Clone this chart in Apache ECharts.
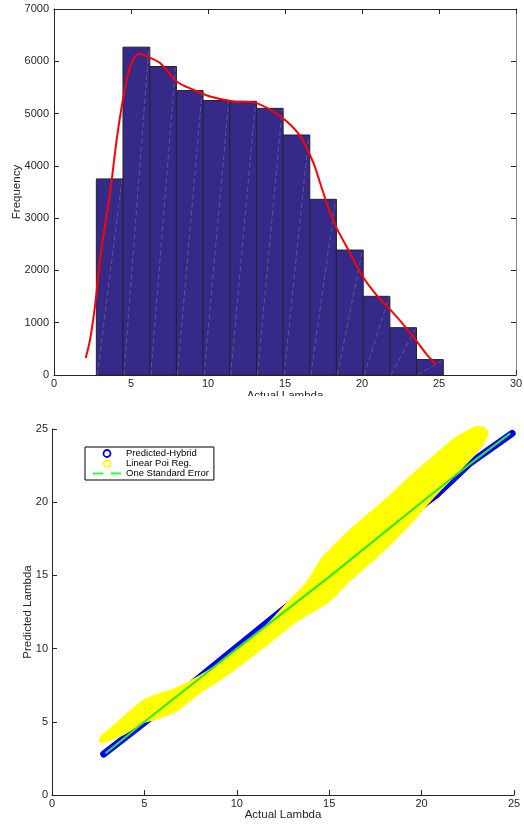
<!DOCTYPE html>
<html>
<head>
<meta charset="utf-8">
<script src="https://cdn.jsdelivr.net/npm/echarts@6/dist/echarts.min.js"></script>
<style>
  html, body { margin: 0; padding: 0; background: #fff; }
  #hist { width: 524px; height: 396px; }
  #scat { width: 524px; height: 424px; margin-top: 4px; }
</style>
</head>
<body>
<div id="hist"></div>
<div id="scat"></div>
<script>
// histogram bins (edges) and counts
var binEdges = [2.75, 4.48, 6.22, 7.95, 9.68, 11.41, 13.15, 14.88, 16.61, 18.34, 20.08, 21.81, 23.54, 25.28];
var binCounts = [3750, 6270, 5900, 5440, 5250, 5235, 5100, 4590, 3360, 2390, 1505, 905, 295];

// red density curve
var kdeX = [2.06, 2.34, 2.66, 2.99, 3.31, 3.64, 4.07, 4.51, 4.94, 5.26, 5.59, 6.02, 6.89, 7.97, 9.05, 10.14, 11.65, 12.95, 14.04, 15.12, 16.0, 16.85, 17.28, 17.93, 18.37, 19.23, 20.10, 20.97, 21.83, 22.70, 23.57, 24.21, 24.82];
var kdeY = [325, 676, 1313, 2206, 2850, 3480, 4500, 5328, 5901, 6093, 6145, 6095, 5966, 5615, 5456, 5328, 5233, 5214, 5074, 4850, 4564, 4054, 3672, 3100, 2800, 2330, 1860, 1520, 1250, 960, 640, 390, 200];

// scatter plot: predicted-hybrid (blue), linear poisson regression cloud (yellow), one standard error (green)
var blueX = [2.8, 5.5, 8.5, 12.5, 16.5, 20.8, 22.6, 24.9];
var blueY = [2.8, 5.45, 8.55, 12.65, 16.5, 20.5, 22.65, 24.7];
var yellowUpper = [[2.55, 3.75], [2.7, 4.1], [3.2, 4.6], [3.9, 5.4], [4.5, 6.05], [4.9, 6.45], [5.5, 6.8], [6.5, 7.2], [7.5, 7.8], [8.5, 8.55], [9.8, 9.7], [11.2, 11.1], [12.7, 13.1], [13.8, 14.6], [14.6, 16.2], [15.2, 17.0], [16.1, 18.1], [17.2, 19.3], [18.3, 20.5], [19.4, 21.8], [20.5, 23.0], [21.7, 24.3], [22.5, 24.9], [23.0, 25.18], [23.4, 25.1], [23.6, 24.7]];
var yellowLower = [[2.65, 3.55], [3.85, 4.1], [4.9, 4.9], [5.7, 5.2], [6.7, 5.7], [8.0, 6.95], [9.5, 8.2], [11.8, 10.4], [13.3, 11.9], [15.0, 13.2], [16.1, 14.6], [17.9, 16.6], [19.4, 18.5], [20.5, 20.1], [22.1, 22.2], [23.2, 23.7]];
var greenX = [2.9, 5, 8, 10, 15, 20, 22.6, 24.8];
var greenY = [2.85, 5, 7.98, 10, 14.9, 20, 22.6, 24.7];

var font = 'Liberation Sans, Arial, sans-serif';
var axisColor = '#262626';
var plain = function (v) { return String(v); };

function boxAxis(pos, min, max, interval, labels, margin, extra) {
  var a = {
    type: 'value',
    position: pos,
    min: min,
    max: max,
    interval: interval,
    nameMoveOverlap: false,
    axisLine: { show: true, onZero: false, lineStyle: { color: axisColor, width: 1 } },
    axisTick: { show: true, inside: true, length: 5, lineStyle: { color: axisColor } },
    axisLabel: { show: labels, color: axisColor, fontSize: 11, fontFamily: font, margin: margin, formatter: plain },
    splitLine: { show: false }
  };
  return Object.assign(a, extra || {});
}

// ---------- top: histogram ----------
var histChart = echarts.init(document.getElementById('hist'));
var histData = binCounts.map(function (c, i) {
  return [binEdges[i], binEdges[i + 1], c];
});

histChart.setOption({
  animation: false,
  grid: { left: 54, right: 8, top: 9, bottom: 21, containLabel: false, outerBoundsMode: 'none' },
  xAxis: [
    boxAxis('bottom', 0, 30, 5, true, 3, {
      name: 'Actual Lambda', nameLocation: 'middle', nameGap: 15,
      nameTextStyle: { color: axisColor, fontSize: 11.5, fontFamily: font, verticalAlign: 'top' }
    }),
    boxAxis('top', 0, 30, 5, false, 3)
  ],
  yAxis: [
    boxAxis('left', 0, 7000, 1000, true, 5, {
      name: 'Frequency', nameLocation: 'middle', nameGap: 31, nameRotate: 90,
      nameTextStyle: { color: axisColor, fontSize: 11.5, fontFamily: font }
    }),
    boxAxis('right', 0, 7000, 1000, false, 5, { axisLine: { show: true, onZero: false, lineStyle: { color: '#8a8a8a' } } })
  ],
  series: [
    {
      type: 'custom',
      xAxisIndex: 0,
      yAxisIndex: 0,
      data: histData,
      encode: { x: [0, 1], y: 2 },
      renderItem: function (params, api) {
        var p0 = api.coord([api.value(0), 0]);
        var p1 = api.coord([api.value(1), api.value(2)]);
        return {
          type: 'group',
          children: [
            {
              type: 'rect',
              shape: { x: p0[0], y: p1[1], width: p1[0] - p0[0], height: p0[1] - p1[1] },
              style: { fill: '#352a87', stroke: '#23232e', lineWidth: 1 }
            },
            {
              type: 'line',
              shape: { x1: p0[0] + 1, y1: p0[1], x2: p1[0] - 1, y2: p1[1] + 1 },
              style: { stroke: 'rgba(190,190,240,0.35)', lineWidth: 0.8, lineDash: [5, 3] }
            }
          ]
        };
      }
    },
    {
      type: 'line',
      xAxisIndex: 0,
      yAxisIndex: 0,
      data: kdeX.map(function (x, i) { return [x, kdeY[i]]; }),
      smooth: 0.3,
      showSymbol: false,
      lineStyle: { color: '#ff0000', width: 2 },
      z: 5
    }
  ]
});

// ---------- bottom: predicted vs actual ----------
var scatChart = echarts.init(document.getElementById('scat'));
var yellowOutline = yellowUpper.concat(yellowLower.slice().reverse());

scatChart.setOption({
  animation: false,
  grid: { left: 52, right: 10, top: 29, bottom: 29, containLabel: false, outerBoundsMode: 'none' },
  legend: {
    orient: 'vertical',
    left: 85,
    top: 47,
    padding: [1.5, 5, 1.5, 8],
    itemGap: 0,
    itemWidth: 28,
    itemHeight: 7,
    borderColor: '#000',
    borderWidth: 1,
    selectedMode: false,
    textStyle: { fontSize: 9.5, lineHeight: 9.5, color: '#000', fontFamily: font },
    data: [
      { name: 'Predicted-Hybrid', icon: 'circle', itemStyle: { color: '#fff', borderColor: '#0000ff', borderWidth: 1.8 } },
      { name: 'Linear Poi Reg.', icon: 'circle', itemStyle: { color: '#fff', borderColor: '#ffff00', borderWidth: 1.8 } },
      { name: 'One Standard Error', icon: 'path://M0,0h10v2h-10zM17,0h10v2h-10z', itemStyle: { color: '#33ff33', borderWidth: 0 } }
    ]
  },
  xAxis: {
    type: 'value', min: 0, max: 25, interval: 5,
    nameMoveOverlap: false,
    axisLine: { show: true, onZero: false, lineStyle: { color: axisColor } },
    axisTick: { inside: true, length: 5, lineStyle: { color: axisColor } },
    axisLabel: { color: axisColor, fontSize: 11, fontFamily: font, margin: 3, formatter: plain },
    splitLine: { show: false },
    name: 'Actual Lambda', nameLocation: 'middle', nameGap: 14,
    nameTextStyle: { color: axisColor, fontSize: 11.5, fontFamily: font, verticalAlign: 'top' }
  },
  yAxis: {
    type: 'value', min: 0, max: 25, interval: 5,
    nameMoveOverlap: false,
    axisLine: { show: true, onZero: false, lineStyle: { color: axisColor } },
    axisTick: { inside: true, length: 5, lineStyle: { color: axisColor } },
    axisLabel: { color: axisColor, fontSize: 11, fontFamily: font, margin: 4, formatter: plain },
    splitLine: { show: false },
    name: 'Predicted Lambda', nameLocation: 'middle', nameGap: 18, nameRotate: 90,
    nameTextStyle: { color: axisColor, fontSize: 11.5, fontFamily: font }
  },
  series: [
    {
      name: 'Predicted-Hybrid',
      type: 'line',
      data: blueX.map(function (x, i) { return [x, blueY[i]]; }),
      showSymbol: false,
      lineStyle: { color: '#0000ff', width: 7, cap: 'round', join: 'round' },
      itemStyle: { color: '#0000ff' },
      z: 2
    },
    {
      name: 'Linear Poi Reg.',
      type: 'custom',
      data: yellowOutline,
      encode: { x: 0, y: 1 },
      itemStyle: { color: '#ffff00' },
      renderItem: function (params, api) {
        if (params.dataIndex !== 0) return null;
        var pts = yellowOutline.map(function (p) { return api.coord(p); });
        return {
          type: 'polygon',
          shape: { points: pts, smooth: 0.25 },
          style: { fill: '#ffff00', stroke: '#ffff00', lineWidth: 1 }
        };
      },
      z: 3
    },
    {
      name: 'One Standard Error',
      type: 'line',
      data: greenX.map(function (x, i) { return [x, greenY[i]]; }),
      showSymbol: false,
      lineStyle: { color: '#22ee22', width: 2 },
      itemStyle: { color: '#33ff33' },
      z: 4
    }
  ]
});
</script>
</body>
</html>
